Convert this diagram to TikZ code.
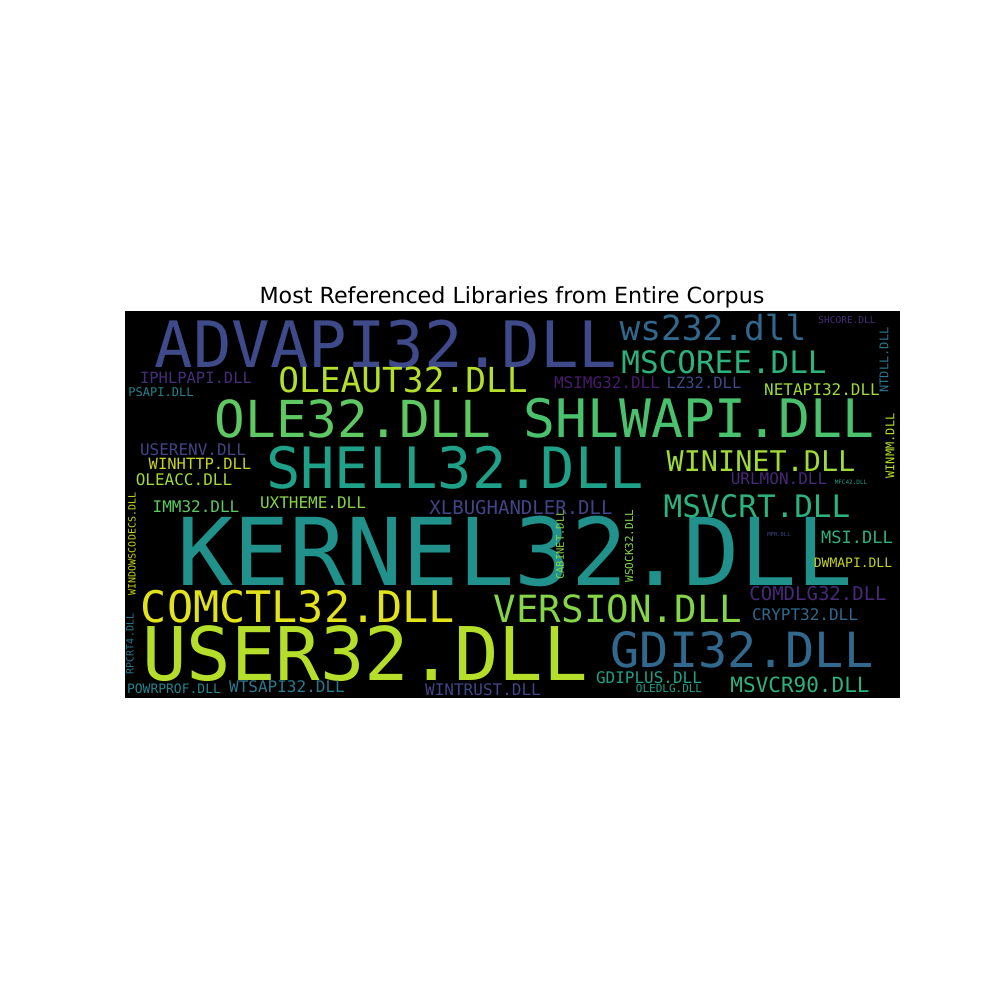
\documentclass[tikz,border=0pt]{standalone}
\usepackage{fontspec}
\usepackage{tikz}
\usetikzlibrary{positioning}
\newfontfamily\cloudfont{DejaVu Sans Mono}
\newfontfamily\titlefont{DejaVu Sans}
\newcommand{\wsize}[1]{\cloudfont\fontsize{#1}{#1}\selectfont}
\definecolor{vpurple}{HTML}{472D7B}
\definecolor{vdeep}{HTML}{481A6C}
\definecolor{vviolet}{HTML}{482878}
\definecolor{vslate}{HTML}{414487}
\definecolor{vblue}{HTML}{3E4A89}
\definecolor{vsteel}{HTML}{31688E}
\definecolor{vteal}{HTML}{2A788E}
\definecolor{vsea}{HTML}{25858E}
\definecolor{vcyan}{HTML}{21918C}
\definecolor{vjade}{HTML}{1FA088}
\definecolor{vmint}{HTML}{2DB27D}
\definecolor{vgreen}{HTML}{4AC16D}
\definecolor{vleaf}{HTML}{5EC962}
\definecolor{vlime}{HTML}{86D549}
\definecolor{volive}{HTML}{A0DA39}
\definecolor{vchart}{HTML}{B5DE2B}
\definecolor{vgold}{HTML}{C8D51F}
\definecolor{vyellow}{HTML}{E3E31C}

\begin{document}
\begin{tikzpicture}[x=1pt, y=-1pt]
    \tikzstyle{word} = [anchor=base, inner sep=0pt]
    \tikzstyle{upword} = [anchor=center, inner sep=0pt, rotate=90]
    \useasboundingbox (0,0) rectangle (1000,1000);
    \fill [white] (0,0) rectangle (1000,1000);
    \fill [black] (125,311) rectangle (900,698);
    \node [anchor=base, inner sep=0pt, font=\titlefont\fontsize{22.2}{22.2}\selectfont] (title) at (512,303) {Most Referenced Libraries from Entire Corpus};
    % big words
    \node [word, text=vblue, font=\wsize{64}] (advapi) at (386,367) {ADVAPI32.DLL};
    \node [word, text=vcyan, font=\wsize{93.5}] (kernel) at (515,585) {KERNEL32.DLL};
    \node [word, text=vchart, font=\wsize{74}] (user) at (365,680) {USER32.DLL};
    \node [word, text=vjade, font=\wsize{57}] (shell) at (455,488) {SHELL32.DLL};
    \node [word, text=vleaf, font=\wsize{51}] (ole) at (353,437) {OLE32.DLL};
    \node [word, text=vgreen, font=\wsize{53}] (shlwapi) at (699,437) {SHLWAPI.DLL};
    \node [word, text=vsteel, font=\wsize{48.5}] (gdi) at (742,667) {GDI32.DLL};
    \node [word, text=vyellow, font=\wsize{43.5}] (comctl) at (298,622) {COMCTL32.DLL};
    \node [word, text=vlime, font=\wsize{37.5}] (version) at (618,622) {VERSION.DLL};
    \node [word, text=vchart, font=\wsize{34.5}] (oleaut) at (403,392) {OLEAUT32.DLL};
    \node [word, text=vsteel, font=\wsize{34.5}] (ws) at (713,340) {ws232.dll};
    \node [word, text=vmint, font=\wsize{31}] (mscoree) at (724,373) {MSCOREE.DLL};
    \node [word, text=vmint, font=\wsize{31}] (msvcrt) at (757,517) {MSVCRT.DLL};
    \node [word, text=volive, font=\wsize{28.5}] (wininet) at (761,471) {WININET.DLL};
    \node [word, text=vmint, font=\wsize{21}] (msvcr) at (800,692) {MSVCR90.DLL};
    \node [word, text=vslate, font=\wsize{19}] (xlbug) at (521,514) {XLBUGHANDLER.DLL};
    \node [word, text=vviolet, font=\wsize{19}] (comdlg) at (818,600) {COMDLG32.DLL};
    % small words
    \node [word, text=vpurple, font=\wsize{15.5}] (iphlpapi) at (196,383) {IPHLPAPI.DLL};
    \node [word, text=vsea, font=\wsize{12}] (psapi) at (161,396) {PSAPI.DLL};
    \node [word, text=vdeep, font=\wsize{16}] (msimg) at (607,388) {MSIMG32.DLL};
    \node [word, text=vblue, font=\wsize{15.5}] (lz) at (704,388) {LZ32.DLL};
    \node [word, text=volive, font=\wsize{16}] (netapi) at (822,395) {NETAPI32.DLL};
    \node [word, text=vpurple, font=\wsize{9.5}] (shcore) at (847,323) {SHCORE.DLL};
    \node [word, text=vslate, font=\wsize{16}] (userenv) at (193,455) {USERENV.DLL};
    \node [word, text=vgold, font=\wsize{15.5}] (winhttp) at (200,469) {WINHTTP.DLL};
    \node [word, text=volive, font=\wsize{16}] (oleacc) at (184,485) {OLEACC.DLL};
    \node [word, text=vviolet, font=\wsize{16}] (urlmon) at (779,484) {URLMON.DLL};
    \node [word, text=vjade, font=\wsize{6}] (mfc) at (851,484) {MFC42.DLL};
    \node [word, text=vleaf, font=\wsize{16}] (imm) at (196,512) {IMM32.DLL};
    \node [word, text=vlime, font=\wsize{16}] (uxtheme) at (313,508) {UXTHEME.DLL};
    \node [word, text=vblue, font=\wsize{5.5}] (mpr) at (779,536) {MPR.DLL};
    \node [word, text=vmint, font=\wsize{17}] (msi) at (857,543) {MSI.DLL};
    \node [word, text=vgold, font=\wsize{13}] (dwmapi) at (853,567) {DWMAPI.DLL};
    \node [word, text=vsteel, font=\wsize{16}] (crypt) at (805,620) {CRYPT32.DLL};
    \node [word, text=vsea, font=\wsize{13}] (powrprof) at (174,693) {POWRPROF.DLL};
    \node [word, text=vteal, font=\wsize{16}] (wtsapi) at (287,692) {WTSAPI32.DLL};
    \node [word, text=vslate, font=\wsize{16}] (wintrust) at (483,695) {WINTRUST.DLL};
    \node [word, text=vjade, font=\wsize{16}] (gdiplus) at (649,683) {GDIPLUS.DLL};
    \node [word, text=vjade, font=\wsize{11}] (oledlg) at (669,692) {OLEDLG.DLL};
    % upright words
    \node [upword, text=vteal, font=\wsize{12}] (ntdll) at (884,360) {NTDLL.DLL};
    \node [upword, text=vchart, font=\wsize{12}] (winmm) at (890,446) {WINMM.DLL};
    \node [upword, text=vgold, font=\wsize{10}] (codecs) at (132,544) {WINDOWSCODECS.DLL};
    \node [upword, text=vteal, font=\wsize{10}] (rpcrt) at (130,644) {RPCRT4.DLL};
    \node [upword, text=vlime, font=\wsize{10.5}] (cabinet) at (560,545) {CABINET.DLL};
    \node [upword, text=vlime, font=\wsize{11}] (wsock) at (629,546) {WSOCK32.DLL};
\end{tikzpicture}
\end{document}
